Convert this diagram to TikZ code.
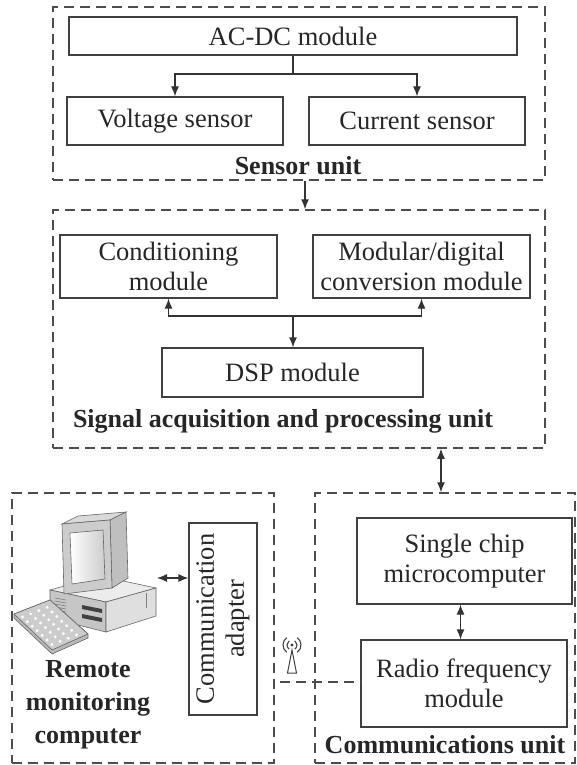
\documentclass[tikz,border=0pt]{standalone}
\usepackage{fontspec}
\setmainfont{Liberation Serif}
\usetikzlibrary{arrows.meta, positioning}

\begin{document}
\begin{tikzpicture}[x=1pt, y=-1pt, >={Latex[length=10pt,width=8pt]},
    blk/.style={draw=black!75, line width=1.2pt, inner sep=0pt, align=center, text=black!85,
        font=\fontsize{26.5}{30}\selectfont},
    dashline/.style={draw=black!70, line width=1.5pt, dash pattern=on 10pt off 6pt},
    grp/.style={dashline, inner sep=0pt},
    lbl/.style={inner sep=0pt, align=center, text=black!85, font=\fontsize{26}{33}\selectfont\bfseries},
    link/.style={draw=black!80, line width=1.2pt}]
    \useasboundingbox (0,0) rectangle (576,765);

    % Sensor unit
    \node[grp, minimum width=492pt, minimum height=173pt] (sensor) at (299,93.5) {};
    \node[blk, minimum width=448pt, minimum height=38pt] (acdc) at (293,36) {AC-DC module};
    \node[blk, minimum width=216pt, minimum height=48pt] (volt) at (175,121) {Voltage sensor};
    \node[blk, minimum width=216pt, minimum height=48pt] (curr) at (417,121) {Current sensor};
    \node[lbl] (sensorlbl) at (298,166) {Sensor unit};
    \coordinate (split) at (293,74);
    \draw[link] (acdc.south) -- (split);
    \draw[link,->] (split) -| (volt.north);
    \draw[link,->] (split) -| (curr.north);

    % Signal acquisition and processing unit
    \node[grp, minimum width=492pt, minimum height=238pt] (signal) at (299,329) {};
    \node[blk, minimum width=217pt, minimum height=63pt] (cond) at (168.5,266.5) {Conditioning\\module};
    \node[blk, minimum width=217pt, minimum height=63pt] (adc) at (421.5,266.5) {Modular/digital\\conversion module};
    \node[blk, minimum width=261pt, minimum height=49pt] (dsp) at (292.5,372.5) {DSP module};
    \node[lbl] (signallbl) at (283,421) {Signal acquisition and processing unit};
    \coordinate (bus) at (293,316);
    \draw[link,<->] (cond.south) |- (bus) -| (adc.south);
    \draw[link,->] (bus) -- (bus |- dsp.north);
    \draw[link,->] ([xshift=6pt]sensor.south) -- ([xshift=6pt]signal.north);

    % Communications unit
    \node[grp, minimum width=260pt, minimum height=270pt] (comm) at (445,628) {};
    \node[blk, minimum width=215pt, minimum height=86pt] (mcu) at (464.5,561) {Single chip\\microcomputer};
    \node[blk, minimum width=206pt, minimum height=87pt] (rf) at (464,683.5) {Radio frequency\\module};
    \node[lbl] (commlbl) at (445,745) {Communications unit};
    \draw[link,<->] ([xshift=-4pt]mcu.south) -- ([xshift=-4pt]mcu.south |- rf.north);
    \draw[link,<->] ([xshift=142pt]signal.south) -- ([xshift=142pt]signal.south |- comm.north);

    % Remote monitoring computer
    \node[grp, minimum width=262pt, minimum height=270pt] (remote) at (143,628) {};
    \node[blk, rotate=90, minimum width=192pt, minimum height=68pt] (adapter) at (223,619) {Communication\\adapter};
    \node[lbl] (remotelbl) at (88,705) {Remote\\monitoring\\computer};
    \coordinate (pcport) at (157,578);
    \draw[link,<->] (pcport) -- (pcport -| adapter.north);

    % Wireless link with antenna
    \coordinate (ant) at (292,673);
    \coordinate (wl) at (280,682);
    \draw[dashline] (wl) -- (wl -| rf.west);
    \draw[black!75, line width=1pt] (ant) ++(-4.5,0) -- (292,650) -- ++(4.5,23) -- cycle;
    \fill[black!75] (292,645) circle (1.6);
    \foreach \r in {5,9} {
        \draw[black!75, line width=1.1pt] (292,645) ++(125:\r) arc (125:235:\r);
        \draw[black!75, line width=1.1pt] (292,645) ++(55:\r) arc (55:-55:\r);
    }

    % Computer: case
    \draw[black!60, line width=0.6pt, fill=gray!15] (50,590) -- (100,576) -- (156,588) -- (106,602) -- cycle;
    \draw[black!60, line width=0.6pt, fill=gray!45] (50,590) -- (106,602) -- (106,632) -- (50,618) -- cycle;
    \draw[black!60, line width=0.6pt, fill=gray!25] (106,602) -- (156,588) -- (156,616) -- (106,632) -- cycle;
    \fill[black!75] (82,605) -- (102,609) -- (102,613) -- (82,609) -- cycle; % drive bays
    \fill[black!75] (82,614) -- (102,618) -- (102,622) -- (82,618) -- cycle;
    \foreach \v in {0,1,2,3,4} {
        \draw[black!50, line width=0.6pt] (55,598+3*\v) -- (66,600+3*\v);
        \draw[black!50, line width=0.6pt] (146,596+3*\v) -- (146,593+3*\v);
    }

    % Computer: monitor
    \draw[black!60, line width=0.6pt, fill=gray!30] (62,524) -- (78,516) -- (126,512) -- (110,520) -- cycle;
    \draw[black!60, line width=0.6pt, fill=gray!50] (110,520) -- (126,512) -- (128,578) -- (112,588) -- cycle;
    \draw[black!60, line width=0.6pt, fill=gray!40] (62,524) -- (110,520) -- (112,588) -- (64,594) -- cycle;
    \shade[left color=white, right color=gray!40, draw=black!60, line width=0.6pt]
        (70,533) -- (103,530) -- (105,579) -- (72,584) -- cycle;

    % Computer: keyboard
    \draw[black!60, line width=0.6pt, fill=gray!55] (14,614) -- (50,600) -- (88,634) -- (88,638) -- (52,654) -- (14,618) -- cycle;
    \draw[black!60, line width=0.6pt, fill=gray!40] (14,614) -- (50,600) -- (88,634) -- (52,650) -- cycle;
    \foreach \i in {0,...,6} {
        \foreach \j in {0,...,3} {
            \fill[white] (14+\i*4.9+4.5+\j*8.2+4, 614+\i*4.6+4.5-\j*3.2-1.5) circle (1.6);
        }
    }
\end{tikzpicture}
\end{document}
